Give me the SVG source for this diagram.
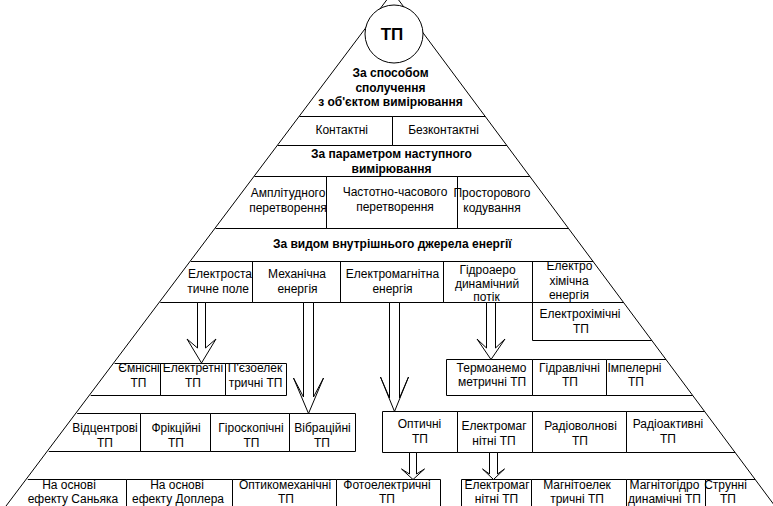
<svg xmlns="http://www.w3.org/2000/svg" width="773" height="506" viewBox="0 0 773 506">
<style>
.l{fill:none;stroke:#000;stroke-width:1}
.t{font-family:"Liberation Sans",Arial,sans-serif;font-size:12px;text-anchor:middle;fill:#000}
.b{font-weight:bold}
.arr{fill:#fff;stroke:#000;stroke-width:1;stroke-linejoin:miter}
</style>
<rect width="773" height="506" fill="#fff"/>
<g id="frame">
<polyline class="l" points="0,514 392.7,-8 785.3,520"/>
</g>
<g id="n-tp">
<circle cx="394" cy="34" r="29" fill="#fff" stroke="#000"/>
<text class="t b" x="392" y="40" style="font-size:17px">ТП</text>
</g>
<g id="n-heading1">
<text class="t b"><tspan x="390.5" y="77.3">За способом</tspan><tspan x="390.5" y="91.7">сполучення</tspan><tspan x="390.5" y="106">з об'єктом вимірювання</tspan></text>
</g>
<g id="n-contact">
<path class="l" d="M299.4,116.5H392.5V145.5H277.7"/>
<text class="t" x="341.7" y="134">Контактні</text>
</g>
<g id="n-noncontact">
<path class="l" d="M392.5,116.5H485.3M392.5,116.5V145.5H506.9"/>
<text class="t" x="443.5" y="133.5">Безконтактні</text>
</g>
<g id="n-heading2">
<text class="t b"><tspan x="391.5" y="157.5">За параметром наступного</tspan><tspan x="391.5" y="172.5">вимірювання</tspan></text>
</g>
<g id="n-amplitude">
<path class="l" d="M254.5,176.5H326.5V228.5H215.6"/>
<text class="t"><tspan x="288" y="196.5">Амплітудного</tspan><tspan x="288" y="211.5">перетворення</tspan></text>
</g>
<g id="n-frequency">
<path class="l" d="M326.5,176.5H457.5V228.5H326.5Z"/>
<text class="t"><tspan x="395" y="196">Частотно-часового</tspan><tspan x="395" y="211">перетворення</tspan></text>
</g>
<g id="n-spatial">
<path class="l" d="M457.5,176.5H529.9M457.5,176.5V228.5H568.6"/>
<text class="t"><tspan x="492" y="196.5">Просторового</tspan><tspan x="492" y="211.5">кодування</tspan></text>
</g>
<g id="n-heading3">
<path class="l" d="M190.9,261.5H593.1"/>
<text class="t b" x="392.3" y="248.3">За видом внутрішнього джерела енергії</text>
</g>
<g id="n-electrostatic">
<path class="l" d="M190.9,261.5H252.5V302.5H160.3"/>
<text class="t"><tspan x="220" y="278.3">Електроста</tspan><tspan x="218" y="293.3">тичне поле</tspan></text>
</g>
<g id="n-mechanical">
<path class="l" d="M252.5,261.5H340.5V302.5H252.5Z"/>
<text class="t"><tspan x="297" y="278">Механічна</tspan><tspan x="297.5" y="293">енергія</tspan></text>
</g>
<g id="n-em-energy">
<path class="l" d="M340.5,261.5H443.5V302.5H340.5Z"/>
<text class="t"><tspan x="392.5" y="278">Електромагнітна</tspan><tspan x="392.5" y="293">енергія</tspan></text>
</g>
<g id="n-hydro">
<path class="l" d="M443.5,261.5H532.5V302.5H443.5Z"/>
<text class="t"><tspan x="487.5" y="274">Гідроаеро</tspan><tspan x="487" y="287.5">динамічний</tspan><tspan x="486.5" y="301">потік</tspan></text>
</g>
<g id="n-echem-energy">
<path class="l" d="M593.1,261.5H532.5V302.5H623.6"/>
<text class="t"><tspan x="569.5" y="270">Електро</tspan><tspan x="569" y="284.5">хімічна</tspan><tspan x="569" y="299">енергія</tspan></text>
</g>
<g id="n-echem-tp">
<path class="l" d="M532.5,302.5V340.5H651.8"/>
<text class="t"><tspan x="580" y="318.3">Електрохімічні</tspan><tspan x="581" y="333.3">ТП</tspan></text>
</g>
<g id="n-capacitive">
<path class="l" d="M114.6,363.5H160.5V395.5H90.7"/>
<text class="t"><tspan x="139" y="371.7">Ємнісні</tspan><tspan x="138.5" y="386.7">ТП</tspan></text>
</g>
<g id="n-electret">
<path class="l" d="M160.5,363.5H225.5V395.5H160.5Z"/>
<text class="t"><tspan x="193" y="371.7">Електретні</tspan><tspan x="193" y="386.7">ТП</tspan></text>
</g>
<g id="n-piezo">
<path class="l" d="M225.5,363.5H286.5V395.5H225.5Z"/>
<text class="t"><tspan x="255" y="371.7">П'єзоелек</tspan><tspan x="255.5" y="386.7">тричні ТП</tspan></text>
</g>
<g id="n-thermoanemo">
<path class="l" d="M446.5,359.5H532.5V395.5H446.5Z"/>
<text class="t"><tspan x="491.5" y="371.7">Термоанемо</tspan><tspan x="492" y="386">метричні ТП</tspan></text>
</g>
<g id="n-hydraulic">
<path class="l" d="M532.5,359.5H606.5V395.5H532.5Z"/>
<text class="t"><tspan x="569.5" y="371.7">Гідравлічні</tspan><tspan x="570" y="386">ТП</tspan></text>
</g>
<g id="n-impeller">
<path class="l" d="M666,359.5H606.5V395.5H692.7"/>
<text class="t"><tspan x="634.5" y="371.7">Імпелерні</tspan><tspan x="636" y="386">ТП</tspan></text>
</g>
<g id="n-centrifugal">
<path class="l" d="M77.2,413.5H140.5V451.5H48.8"/>
<text class="t"><tspan x="105" y="432">Відцентрові</tspan><tspan x="105" y="447">ТП</tspan></text>
</g>
<g id="n-friction">
<path class="l" d="M140.5,413.5H210.5V451.5H140.5Z"/>
<text class="t"><tspan x="176" y="432">Фрікційні</tspan><tspan x="176" y="447">ТП</tspan></text>
</g>
<g id="n-gyro">
<path class="l" d="M210.5,413.5H289.5V451.5H210.5Z"/>
<text class="t"><tspan x="251" y="432">Гіроскопічні</tspan><tspan x="251.5" y="447">ТП</tspan></text>
</g>
<g id="n-vibration">
<path class="l" d="M289.5,413.5H355.5V451.5H289.5Z"/>
<text class="t"><tspan x="322.5" y="432">Вібраційні</tspan><tspan x="322" y="447">ТП</tspan></text>
</g>
<g id="n-optical">
<path class="l" d="M382.5,411.5H457.5V452.5H382.5Z"/>
<text class="t"><tspan x="419.5" y="428.3">Оптичні</tspan><tspan x="420" y="443.3">ТП</tspan></text>
</g>
<g id="n-em">
<path class="l" d="M457.5,411.5H532.5V452.5H457.5Z"/>
<text class="t"><tspan x="494" y="430">Електромаг</tspan><tspan x="494" y="445">нітні ТП</tspan></text>
</g>
<g id="n-radiowave">
<path class="l" d="M532.5,411.5H626.5V452.5H532.5Z"/>
<text class="t"><tspan x="580.5" y="430">Радіоволнові</tspan><tspan x="580" y="445">ТП</tspan></text>
</g>
<g id="n-radioactive">
<path class="l" d="M704.6,411.5H626.5V452.5H735.1"/>
<text class="t"><tspan x="668" y="427.5">Радіоактивні</tspan><tspan x="668" y="442.5">ТП</tspan></text>
</g>
<g id="n-sagnac">
<path class="l" d="M27.8,479.5H126.5V510"/>
<text class="t"><tspan x="69" y="488.8">На основі</tspan><tspan x="73" y="503">ефекту Саньяка</tspan></text>
</g>
<g id="n-doppler">
<path class="l" d="M126.5,510V479.5H232.5V510"/>
<text class="t"><tspan x="177" y="488.8">На основі</tspan><tspan x="178" y="503">ефекту Доплера</tspan></text>
</g>
<g id="n-optomech">
<path class="l" d="M232.5,510V479.5H336.5V510"/>
<text class="t"><tspan x="285" y="488.8">Оптикомеханічні</tspan><tspan x="286" y="503">ТП</tspan></text>
</g>
<g id="n-photoel">
<path class="l" d="M336.5,510V479.5H440.5V510"/>
<text class="t"><tspan x="387" y="488.8">Фотоелектричні</tspan><tspan x="387" y="503">ТП</tspan></text>
</g>
<g id="n-em2">
<path class="l" d="M461.5,510V479.5H531.5V510"/>
<text class="t"><tspan x="497" y="488.8">Електромаг</tspan><tspan x="496.5" y="503">нітні ТП</tspan></text>
</g>
<g id="n-magnetoel">
<path class="l" d="M531.5,510V479.5H626.5V510"/>
<text class="t"><tspan x="577" y="488.8">Магнітоелек</tspan><tspan x="577" y="503">тричні ТП</tspan></text>
</g>
<g id="n-mhd">
<path class="l" d="M626.5,510V479.5H705.5V510"/>
<text class="t"><tspan x="664.5" y="488.8">Магнітогідро</tspan><tspan x="664.5" y="503">динамічні ТП</tspan></text>
</g>
<g id="n-string">
<path class="l" d="M705.5,510V479.5H755.2"/>
<text class="t"><tspan x="725.5" y="488.8">Струнні</tspan><tspan x="728" y="503">ТП</tspan></text>
</g>
<g id="connectors">
<polygon class="arr" points="197.5,302.5 197.5,348 187,339 201.5,363 216,339 205.5,348 205.5,302.5"/>
<polygon class="arr" points="303.5,302.5 303.5,397 293.5,378 308.5,413.5 323.5,378 313.5,397 313.5,302.5"/>
<polygon class="arr" points="389.5,302.5 389.5,398 380.5,377 394.5,411.5 408.5,377 399.5,398 399.5,302.5"/>
<polygon class="arr" points="486.5,302.5 486.5,348 477,339 491,359.5 505,339 495.5,348 495.5,302.5"/>
<polygon class="arr" points="409.5,452.5 409.5,474 401.5,469 413,479.5 424.5,469 416.5,474 416.5,452.5"/>
<polygon class="arr" points="489.5,452.5 489.5,474 482.5,469 493.5,479.5 504.5,469 497.5,474 497.5,452.5"/>
</g>
</svg>
